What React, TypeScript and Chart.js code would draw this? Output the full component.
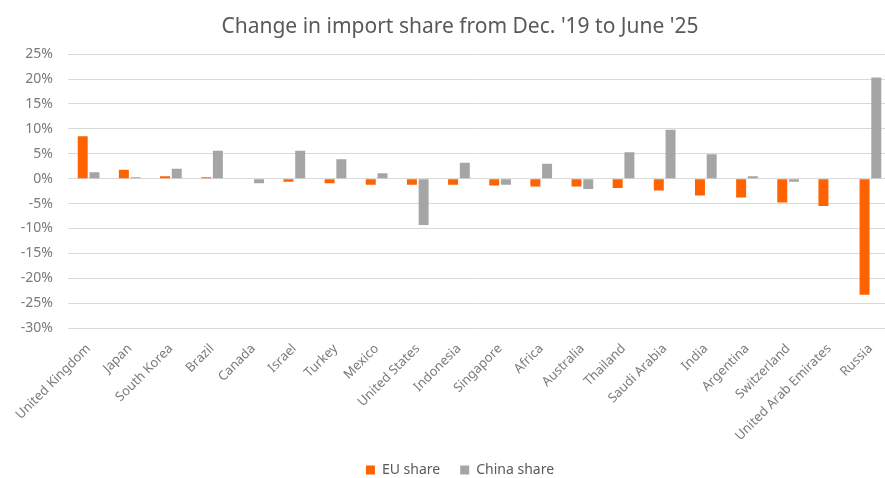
import React, { useEffect, useRef } from "react";
import { Chart, registerables } from "chart.js";

Chart.register(...registerables);

const categories = [
  "United Kingdom", "Japan", "South Korea", "Brazil", "Canada", "Israel", "Turkey", "Mexico",
  "United States", "Indonesia", "Singapore", "Africa", "Australia", "Thailand", "Saudi Arabia",
  "India", "Argentina", "Switzerland", "United Arab Emirates", "Russia",
];
const euShare = [8.5, 1.8, 0.5, 0.3, 0, -0.6, -0.9, -1.2, -1.2, -1.2, -1.4, -1.6, -1.6, -1.9, -2.4, -3.4, -3.8, -4.8, -5.5, -23.3];
const chinaShare = [1.3, 0.3, 2.0, 5.6, -0.9, 5.6, 3.9, 1.1, -9.3, 3.2, -1.2, 3.0, -2.1, 5.3, 9.8, 4.9, 0.5, -0.6, 0, 20.3];
const yMin = -30;
const yMax = 25;
const yStep = 5;
const title = "Change in import share from Dec. '19 to June '25";

const FONT = "'Noto Sans', sans-serif";

export default function App() {
  const ref = useRef<HTMLCanvasElement | null>(null);
  useEffect(() => {
    if (!ref.current) return;
    const chart = new Chart(ref.current, {
      type: "bar",
      data: {
        labels: categories,
        datasets: [
          { label: "EU share", data: euShare, backgroundColor: "#FF6200", borderWidth: 0 },
          { label: "China share", data: chinaShare, backgroundColor: "#A5A5A5", borderWidth: 0 },
        ],
      },
      options: {
        animation: false,
        responsive: false,
        maintainAspectRatio: false,
        datasets: { bar: { categoryPercentage: 0.57, barPercentage: 0.85 } },
        layout: { padding: { left: 0, right: 0, top: 0, bottom: 0 } },
        plugins: {
          title: {
            display: true,
            text: title,
            color: "#595959",
            font: { family: FONT, size: 21, weight: "normal" },
            padding: { top: 14, bottom: 15 },
          },
          legend: {
            position: "bottom",
            labels: {
              color: "#595959",
              font: { family: FONT, size: 14 },
              boxWidth: 9,
              boxHeight: 9,
              padding: 20,
            },
          },
          tooltip: { enabled: false },
        },
        scales: {
          x: {
            grid: { display: false },
            border: { display: false },
            afterFit: (s: any) => { s.height = 115; },
            ticks: {
              color: "#7a7a7a",
              font: { family: FONT, size: 13 },
              minRotation: 45,
              maxRotation: 45,
              autoSkip: false,
              padding: 5,
            },
          },
          y: {
            min: yMin,
            max: yMax,
            grid: { color: "#d9d9d9", lineWidth: 1, drawTicks: false },
            border: { display: false },
            afterFit: (s: any) => { s.width = 68; },
            ticks: {
              stepSize: yStep,
              color: "#7a7a7a",
              font: { family: FONT, size: 14 },
              padding: 15,
              callback: (v: any) => `${v}%`,
            },
          },
          yRight: {
            position: "right",
            display: true,
            grid: { display: false },
            border: { display: false },
            ticks: { display: false },
            afterFit: (s: any) => { s.width = 29; },
          },
        },
      },
    });
    return () => chart.destroy();
  }, []);
  return (
    <div style={{ position: "fixed", left: 0, top: 0, width: 885, height: 478, overflow: "hidden", background: "#fff" }}>
      <canvas ref={ref} width={920} height={487} style={{ display: "block" }} />
    </div>
  );
}
